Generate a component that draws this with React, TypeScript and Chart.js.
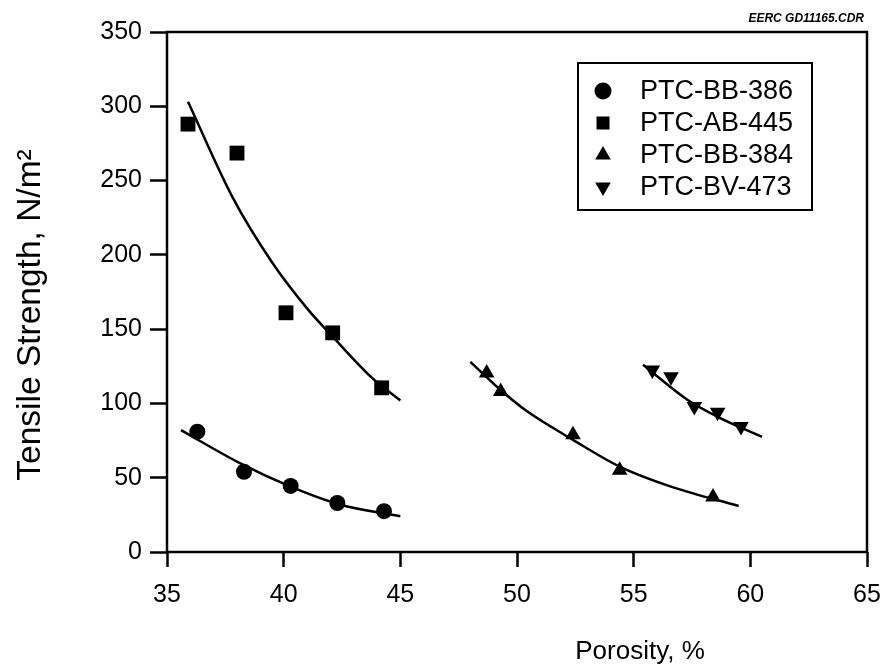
import React, { useEffect, useRef } from 'react';
import { Chart, registerables } from 'chart.js';
Chart.register(...registerables);

// Measured points
const bb386X = [36.3, 38.3, 40.3, 42.3, 44.3];
const bb386Y = [81, 54, 44.5, 33, 27.5];
const ab445X = [35.9, 38.0, 40.1, 42.1, 44.2];
const ab445Y = [288, 268.5, 161, 147.5, 110.5];
const bb384X = [48.7, 49.3, 52.4, 54.4, 58.4];
const bb384Y = [120.5, 108, 79, 55, 37];
const bv473X = [55.8, 56.6, 57.6, 58.6, 59.6];
const bv473Y = [122.5, 118, 98, 94, 84.5];

// Fitted curves
const fit386X = [35.6, 38.1, 40.3, 42.4, 45.0];
const fit386Y = [82, 60, 44, 32, 24];
const fit445X = [35.9, 37.8, 39.5, 41.0, 42.1, 43.8, 45.0];
const fit445Y = [303, 239, 195, 164, 145, 117, 102];
const fit384X = [48.0, 49.3, 50.4, 52.4, 54.4, 56.7, 59.5];
const fit384Y = [128, 109, 95, 75.5, 57.5, 43.5, 31];
const fit473X = [55.4, 57.3, 58.6, 60.5];
const fit473Y = [126, 102.5, 91, 77.5];

const seriesLabels = ['PTC-BB-386', 'PTC-AB-445', 'PTC-BB-384', 'PTC-BV-473'];
const xTitle = 'Porosity, %';
const yTitle = 'Tensile Strength, N/m\u00B2';
const stamp = 'EERC GD11165.CDR';

const FONT = '"Liberation Sans", Arial, Helvetica, sans-serif';

const pts = (xs: number[], ys: number[]) => xs.map((x, i) => ({ x, y: ys[i] }));

function drawMarker(ctx: CanvasRenderingContext2D, style: string, x: number, y: number, r: number) {
  ctx.beginPath();
  if (style === 'circle') {
    ctx.arc(x, y, r, 0, Math.PI * 2);
  } else if (style === 'rect') {
    ctx.rect(x - r, y - r, 2 * r, 2 * r);
  } else if (style === 'up') {
    ctx.moveTo(x, y - r);
    ctx.lineTo(x + r * 0.866, y + r * 0.5);
    ctx.lineTo(x - r * 0.866, y + r * 0.5);
  } else {
    ctx.moveTo(x, y + r);
    ctx.lineTo(x + r * 0.866, y - r * 0.5);
    ctx.lineTo(x - r * 0.866, y - r * 0.5);
  }
  ctx.closePath();
  ctx.fill();
}

const decor = {
  id: 'decor',
  afterDraw(chart: any) {
    const { ctx, chartArea: a } = chart;
    ctx.save();
    ctx.strokeStyle = '#000';
    ctx.lineWidth = 2.5;
    ctx.strokeRect(a.left, a.top, a.right - a.left, a.bottom - a.top);

    // legend box
    const lx = a.left + 411, ly = a.top + 31, lw = 234, lh = 147;
    ctx.lineWidth = 2;
    ctx.strokeRect(lx, ly, lw, lh);
    const styles = ['circle', 'rect', 'up', 'down'];
    const radii = [8.5, 6.5, 9, 9];
    ctx.fillStyle = '#000';
    ctx.font = `27px ${FONT}`;
    ctx.textAlign = 'left';
    ctx.textBaseline = 'middle';
    seriesLabels.forEach((lab, i) => {
      const cy = ly + 28 + i * 32;
      drawMarker(ctx, styles[i], lx + 25, cy, radii[i]);
      ctx.fillText(lab, lx + 62, cy + 1);
    });

    // stamp
    ctx.font = `italic bold 12px ${FONT}`;
    ctx.textAlign = 'right';
    ctx.textBaseline = 'alphabetic';
    ctx.fillText(stamp, a.right - 3, a.top - 10);

    // x title
    ctx.font = `26px ${FONT}`;
    ctx.textAlign = 'center';
    ctx.textBaseline = 'middle';
    ctx.fillText(xTitle, 640, 652);

    // y title
    ctx.save();
    ctx.translate(31, 315);
    ctx.rotate(-Math.PI / 2);
    ctx.font = `33.5px ${FONT}`;
    ctx.fillText(yTitle, 0, 0);
    ctx.restore();

    ctx.restore();
  },
};

export default function App() {
  const ref = useRef<HTMLCanvasElement>(null);
  useEffect(() => {
    if (!ref.current) return;
    const lineDs = (xs: number[], ys: number[]) => ({
      data: pts(xs, ys),
      showLine: true,
      pointRadius: 0,
      borderColor: '#000',
      borderWidth: 2.5,
      cubicInterpolationMode: 'monotone' as const,
      fill: false,
    });
    const markDs = (label: string, xs: number[], ys: number[], style: string, r: number, rot = 0) => ({
      label,
      data: pts(xs, ys),
      showLine: false,
      pointStyle: style,
      pointRadius: r,
      pointRotation: rot,
      backgroundColor: '#000',
      borderColor: '#000',
      borderWidth: 0,
    });
    const chart = new Chart(ref.current, {
      type: 'scatter',
      data: {
        datasets: [
          lineDs(fit386X, fit386Y),
          lineDs(fit445X, fit445Y),
          lineDs(fit384X, fit384Y),
          lineDs(fit473X, fit473Y),
          markDs(seriesLabels[0], bb386X, bb386Y, 'circle', 8),
          markDs(seriesLabels[1], ab445X, ab445Y, 'rect', 10.5),
          markDs(seriesLabels[2], bb384X, bb384Y, 'triangle', 9),
          markDs(seriesLabels[3], bv473X, bv473Y, 'triangle', 9, 180),
        ] as any,
      },
      options: {
        responsive: false,
        animation: false,
        layout: { padding: { top: 32, right: 18, left: 0, bottom: 0 } },
        plugins: { legend: { display: false }, tooltip: { enabled: false } },
        scales: {
          x: {
            type: 'linear',
            min: 35,
            max: 65,
            ticks: { stepSize: 5, color: '#000', font: { size: 25, family: FONT }, padding: 13, maxRotation: 0 },
            grid: { drawOnChartArea: false, drawTicks: true, tickLength: 15, tickColor: '#000', tickWidth: 2.5 },
            border: { display: false },
            afterFit: (s: any) => { s.height = 116; s.paddingLeft = 0; s.paddingRight = 0; },
          },
          y: {
            type: 'linear',
            min: 0,
            max: 350,
            ticks: { stepSize: 50, color: '#000', font: { size: 25, family: FONT }, padding: 8 },
            grid: { drawOnChartArea: false, drawTicks: true, tickLength: 17, tickColor: '#000', tickWidth: 2.5 },
            border: { display: false },
            afterFit: (s: any) => { s.width = 167; s.paddingTop = 0; s.paddingBottom = 0; },
          },
        },
      },
      plugins: [decor],
    });
    return () => chart.destroy();
  }, []);
  return (
    <div style={{ position: 'absolute', left: 0, top: 0, width: 885, height: 668, background: '#fff' }}>
      <canvas ref={ref} width={885} height={668} />
    </div>
  );
}
